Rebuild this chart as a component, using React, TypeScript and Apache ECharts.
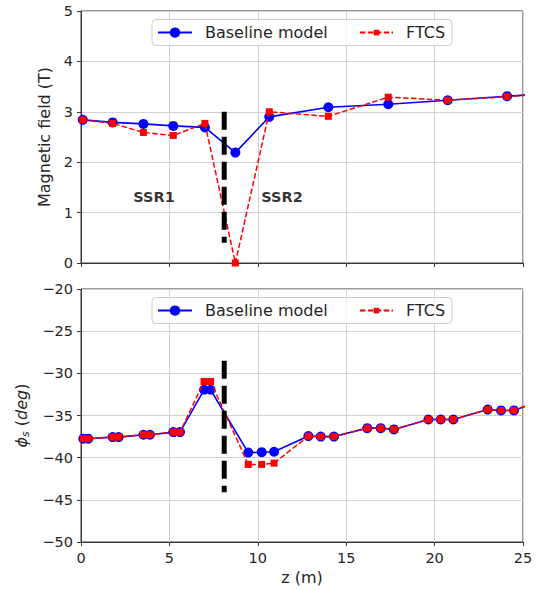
import React, { useEffect, useRef } from 'react';
import * as echarts from 'echarts';

// Top panel: magnetic field along z
const zTop = [0.1, 1.79, 3.53, 5.22, 7.01, 8.73, 10.65, 13.99, 17.38, 20.74, 24.1, 26];
const fieldBaseline = [2.84, 2.79, 2.76, 2.72, 2.69, 2.19, 2.9, 3.09, 3.15, 3.23, 3.31, 3.35];
const fieldFTCS = [2.84, 2.77, 2.59, 2.53, 2.77, 0.0, 3.0, 2.91, 3.29, 3.23, 3.3, 3.35];

// Bottom panel: synchronous phase along z
const zBottom = [0.13, 0.41, 1.79, 2.13, 3.53, 3.9, 5.22, 5.6, 6.96, 7.33, 9.46, 10.22, 10.92, 12.86, 13.56, 14.31, 16.19, 16.95, 17.7, 19.65, 20.35, 21.06, 23.0, 23.76, 24.49, 25.5];
const phiBaseline = [-37.75, -37.75, -37.56, -37.56, -37.28, -37.28, -36.97, -36.97, -31.95, -31.95, -39.4, -39.35, -39.3, -37.44, -37.5, -37.5, -36.5, -36.5, -36.65, -35.47, -35.47, -35.47, -34.3, -34.4, -34.4, -33.6];
const phiFTCS = [-37.75, -37.75, -37.56, -37.56, -37.28, -37.28, -36.97, -36.97, -30.97, -30.97, -40.8, -40.8, -40.65, -37.44, -37.5, -37.5, -36.5, -36.5, -36.65, -35.47, -35.47, -35.47, -34.3, -34.4, -34.4, -33.6];

// Section divider between SSR1 and SSR2
const dividerZ = [8.1, 8.1];
const dividerTop = [3.0, 0.4];
const dividerBottom = [-28.5, -44.1];

// Section labels
const sectionNames = ['SSR1', 'SSR2'];
const sectionZ = [4.13, 11.37];
const sectionField = [1.31, 1.31];

const seriesNames = ['Baseline model', 'FTCS'];
const xTicks = { min: 0, max: 25, interval: 5 };
const yTopTicks = { min: 0, max: 5, interval: 1 };
const yBottomTicks = { min: -50, max: -20, interval: 5 };

const pair = (xs: number[], ys: number[]) => xs.map((x, i) => [x, ys[i]]);

export default function App() {
  const ref = useRef<HTMLDivElement>(null);
  useEffect(() => {
    const chart = echarts.init(ref.current!, null, { renderer: 'svg' });
    const font = 'DejaVu Sans';
    const dark = '#262626';
    const spine = '#3a3a3a';
    const axisLine = { show: true, lineStyle: { color: spine, width: 1 } };
    const axisTick = { show: true, length: 4, lineStyle: { color: spine, width: 1 } };
    const splitLine = { show: true, lineStyle: { color: '#d0d0d0', width: 1 } };
    const tickLabel = { color: dark, fontSize: 14.5, fontFamily: font, margin: 8 };
    const minus = (v: number) => String(v).replace('-', '\u2212');
    const gridBase = { show: true, borderColor: spine, borderWidth: 1, backgroundColor: 'transparent', containLabel: false };

    const lineSeries = (xi: number, zs: number[], base: number[], ftcs: number[]) => [
      {
        name: seriesNames[0], type: 'line', xAxisIndex: xi, yAxisIndex: xi,
        data: pair(zs, base), symbol: 'circle', symbolSize: 10, clip: true,
        itemStyle: { color: '#0000ff' }, lineStyle: { color: '#0000ff', width: 1.6 }, z: 3,
      },
      {
        name: seriesNames[1], type: 'line', xAxisIndex: xi, yAxisIndex: xi,
        data: pair(zs, ftcs), symbol: 'rect', symbolSize: 7, clip: true,
        itemStyle: { color: '#ff0000' }, lineStyle: { color: '#ff0000', width: 1.5, type: [5.5, 2.4] }, z: 4,
      },
    ];

    const divider = (xi: number, ys: number[]) => ({
      name: 'divider', type: 'line', xAxisIndex: xi, yAxisIndex: xi, silent: true,
      data: pair(dividerZ, ys), symbol: 'none',
      lineStyle: { color: '#000000', width: 5, type: [18, 7] }, z: 5,
    });

    const legendItem = (name: string, left: number, center: number, w: number, h: number) => ({
      data: [name], left, top: center - 10, orient: 'horizontal',
      itemWidth: w, itemHeight: h, padding: 0, z: 60,
      textStyle: { fontSize: 16, color: dark, fontFamily: font, padding: [0, 0, 0, 8], lineHeight: 20 },
      selectedMode: false,
    });

    const frame = (y: number) => ({
      type: 'rect', z: 50,
      shape: { x: 152, y, width: 300, height: 26, r: 4 },
      style: { fill: 'rgba(255,255,255,0.8)', stroke: '#cccccc', lineWidth: 1 },
    });

    const option: any = {
      animation: false,
      grid: [
        { ...gridBase, left: 81, top: 11, width: 442, height: 252 },
        { ...gridBase, left: 81, top: 289, width: 442, height: 253 },
      ],
      graphic: [frame(19.5), frame(297.5)],
      legend: [
        legendItem(seriesNames[0], 157, 32.6, 34, 13),
        legendItem(seriesNames[1], 359, 32.6, 33, 7),
        legendItem(seriesNames[0], 157, 310.6, 34, 13),
        legendItem(seriesNames[1], 359, 310.6, 33, 7),
      ],
      xAxis: [
        { gridIndex: 0, type: 'value', ...xTicks, axisLine, axisTick, axisLabel: { show: false }, splitLine },
        {
          gridIndex: 1, type: 'value', ...xTicks, axisLine, axisTick, axisLabel: tickLabel, splitLine,
          name: 'z (m)', nameLocation: 'middle', nameGap: 27,
          nameTextStyle: { fontSize: 16, color: dark, fontFamily: font },
        },
      ],
      yAxis: [
        {
          gridIndex: 0, type: 'value', ...yTopTicks, axisLine, axisTick, axisLabel: tickLabel, splitLine,
          name: 'Magnetic field (T)', nameLocation: 'middle', nameRotate: 90, nameGap: 22,
          nameTextStyle: { fontSize: 16, color: dark, fontFamily: font },
        },
        {
          gridIndex: 1, type: 'value', ...yBottomTicks, axisLine, axisTick,
          axisLabel: { ...tickLabel, formatter: minus }, splitLine,
          name: '{a|ϕ}{b|s}{c| (}{d|deg}{c|)}', nameLocation: 'middle', nameRotate: 90, nameGap: 49,
          nameTextStyle: {
            fontSize: 16, color: dark, fontFamily: font,
            rich: {
              a: { fontSize: 16, fontStyle: 'italic', color: dark, fontFamily: font },
              b: { fontSize: 11, fontStyle: 'italic', color: dark, fontFamily: font, padding: [8, 0, 0, 0] },
              c: { fontSize: 16, color: dark, fontFamily: font },
              d: { fontSize: 16, fontStyle: 'italic', color: dark, fontFamily: font },
            },
          },
        },
      ],
      series: [
        ...lineSeries(0, zTop, fieldBaseline, fieldFTCS),
        divider(0, dividerTop),
        {
          name: 'sections', type: 'scatter', xAxisIndex: 0, yAxisIndex: 0, silent: true,
          symbolSize: 1, itemStyle: { color: 'transparent' },
          data: sectionNames.map((n, i) => ({ name: n, value: [sectionZ[i], sectionField[i]] })),
          label: {
            show: true, position: 'inside', formatter: (p: any) => p.name,
            fontSize: 14.5, fontWeight: 'bold', color: '#000000', fontFamily: font,
          },
          z: 6,
        },
        ...lineSeries(1, zBottom, phiBaseline, phiFTCS),
        divider(1, dividerBottom),
      ],
    };
    chart.setOption(option);
    return () => chart.dispose();
  }, []);
  return <div ref={ref} style={{ position: 'fixed', left: 0, top: 0, width: 540, height: 590, background: '#ffffff' }} />;
}
